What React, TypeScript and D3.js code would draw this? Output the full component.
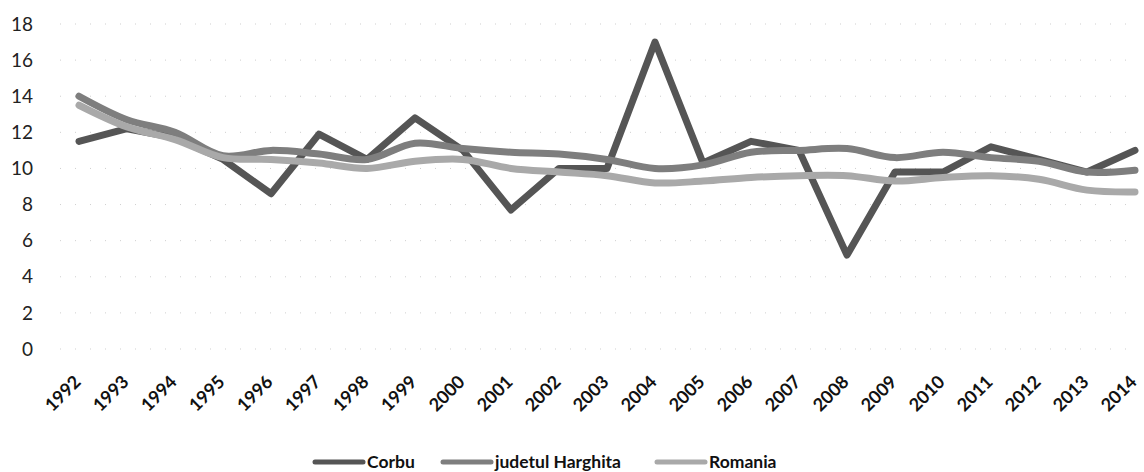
import React from "react";
import * as d3 from "d3";

const years = ["1992","1993","1994","1995","1996","1997","1998","1999","2000","2001","2002","2003","2004","2005","2006","2007","2008","2009","2010","2011","2012","2013","2014"];
const corbu = [11.5,12.2,11.7,10.5,8.6,11.9,10.5,12.8,11.0,7.7,10.0,10.0,17.0,10.3,11.5,11.0,5.2,9.8,9.8,11.2,10.5,9.8,11.0];
const harghita = [14.0,12.7,12.0,10.7,11.0,10.8,10.5,11.4,11.1,10.9,10.8,10.5,10.0,10.2,10.9,11.0,11.1,10.6,10.9,10.6,10.4,9.8,9.9];
const romania = [13.5,12.3,11.6,10.6,10.5,10.3,10.0,10.4,10.5,10.0,9.8,9.6,9.2,9.3,9.5,9.6,9.6,9.3,9.5,9.6,9.4,8.8,8.7];
const yTicks = [0,2,4,6,8,10,12,14,16,18];

const seriesNames = ["Corbu", "judetul Harghita", "Romania"];
const seriesData = [corbu, harghita, romania];
const seriesColors = ["#555555", "#7e7e7e", "#a9a9a9"];

export default function App() {
  const W = 1144, H = 472;
  const x = d3.scalePoint<string>().domain(years).range([79, 1135]);
  const y = d3.scaleLinear().domain([0, 18]).range([349, 24]);
  const lineLinear = d3.line<number>().x((_, i) => x(years[i])!).y(d => y(d)).curve(d3.curveLinear);
  const lineSmooth = d3.line<number>().x((_, i) => x(years[i])!).y(d => y(d)).curve(d3.curveCatmullRom.alpha(0.5));
  const legendX = [315, 443, 657];
  return (
    <svg width={W} height={H} style={{ position: "absolute", left: 0, top: 0, background: "#fff" }}>
      <g>
        {yTicks.map(t => (
          <line key={"g" + t} x1={60} x2={1140} y1={y(t)} y2={y(t)} stroke="#cfcfcf" strokeWidth={1} strokeDasharray="1,14" />
        ))}
      </g>
      <g fontFamily="Lato, 'Open Sans', sans-serif" fontSize={19} fill="#222">
        {yTicks.map(t => (
          <text key={"t" + t} x={33} y={y(t)} dy="0.35em" textAnchor="end">{t}</text>
        ))}
      </g>
      <g fontFamily="Lato, 'Open Sans', sans-serif" fontSize={18} fontWeight="bold" fill="#111">
        {years.map(yr => (
          <text key={yr} transform={`translate(${x(yr)! + 3},${383}) rotate(-45)`} textAnchor="end">{yr}</text>
        ))}
      </g>
      {seriesData.map((s, i) => (
        <path key={seriesNames[i]} d={(i === 0 ? lineLinear : lineSmooth)(s) || ""} fill="none" stroke={seriesColors[i]} strokeWidth={7} strokeLinejoin="round" strokeLinecap="round" />
      ))}
      <g fontFamily="Lato, 'Open Sans', sans-serif" fontSize={17.5} fontWeight="bold" fill="#111">
        {seriesNames.map((n, i) => (
          <g key={n}>
            <line x1={legendX[i]} x2={legendX[i] + 48} y1={462} y2={462} stroke={seriesColors[i]} strokeWidth={5} strokeLinecap="round" />
            <text x={legendX[i] + 52} y={462} dy="0.35em">{n}</text>
          </g>
        ))}
      </g>
    </svg>
  );
}
